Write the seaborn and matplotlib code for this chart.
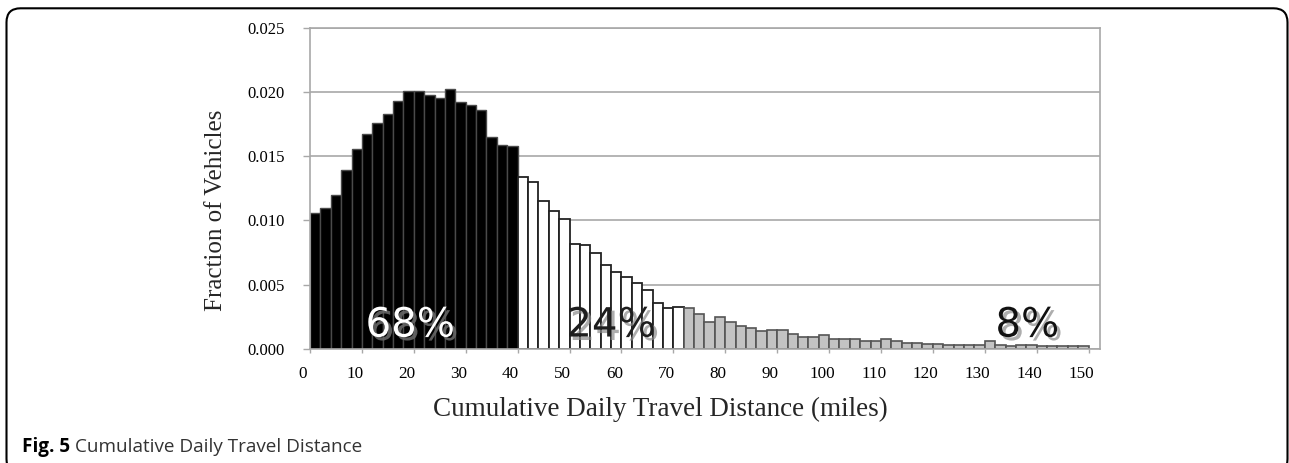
"""Daily travel distance histogram (Fig. 5) redrawn with seaborn."""

import matplotlib

matplotlib.use("Agg")
import matplotlib.patheffects as pe
import matplotlib.pyplot as plt
import numpy as np
import pandas as pd
import seaborn as sns
from matplotlib.patches import FancyBboxPatch
from matplotlib.transforms import IdentityTransform, ScaledTranslation

# Data: fraction of vehicles per 2-mile bin
BIN_WIDTH = 2
black_start = 0
black_frac = [
    0.0106, 0.0110, 0.0120, 0.0139, 0.0156, 0.0167, 0.0176, 0.0183, 0.0193, 0.0201,
    0.0201, 0.0198, 0.0195, 0.0202, 0.0192, 0.0190, 0.0186, 0.0165, 0.0159, 0.0158,
]
white_start = 40
white_frac = [
    0.0134, 0.0130, 0.0115, 0.0107, 0.0101, 0.0082, 0.0081, 0.0075, 0.0065, 0.0060,
    0.0056, 0.0051, 0.0046, 0.0036, 0.0032, 0.0033,
]
gray_start = 72
gray_frac = [
    0.0032, 0.0027, 0.0021, 0.0025, 0.0021, 0.0018, 0.0016, 0.0014, 0.0015, 0.0015,
    0.0012, 0.0009, 0.0009, 0.0011, 0.0008, 0.0008, 0.0008, 0.00065, 0.00065, 0.0008,
    0.0006, 0.0005, 0.0005, 0.0004, 0.0004, 0.0003, 0.0003, 0.0003, 0.0003, 0.0006,
    0.0003, 0.00025, 0.0003, 0.0003, 0.00025, 0.0002, 0.0002, 0.0002, 0.0002,
]
pct_labels = ["68%", "24%", "8%"]
pct_x = [19.3, 58.0, 138.2]
pct_y = 0.00097
x_ticks = list(range(0, 151, 10))
y_ticks = [0.000, 0.005, 0.010, 0.015, 0.020, 0.025]

GROUPS = [
    ("black", black_start, black_frac, "#000000", "#4a4a4a", 1.0),
    ("white", white_start, white_frac, "#ffffff", "#222222", 1.3),
    ("gray", gray_start, gray_frac, "#c3c3c3", "#555555", 1.2),
]

# Style
sns.set_style("white")
plt.rcParams["font.family"] = ["Liberation Serif", "DejaVu Serif"]
GRID = "#a8a8a8"

fig = plt.figure(figsize=(12.89, 4.63), dpi=100)
ax = fig.add_axes([310 / 1289, 1 - 349 / 463, 790 / 1289, 321.3 / 463])

for name, start, fracs, face, edge, lw in GROUPS:
    mids = start + BIN_WIDTH * np.arange(len(fracs)) + BIN_WIDTH / 2
    df = pd.DataFrame({"mile": mids, "frac": fracs})
    sns.histplot(
        data=df,
        x="mile",
        weights="frac",
        binwidth=BIN_WIDTH,
        binrange=(start, start + BIN_WIDTH * len(fracs)),
        color=face,
        edgecolor=edge,
        linewidth=lw,
        alpha=1,
        ax=ax,
    )

ax.set_xlim(0, 152.2)
ax.set_ylim(0, 0.025)
ax.set_xticks(x_ticks)
ax.set_xticklabels([str(t) for t in x_ticks])
ax.set_yticks(y_ticks)
ax.set_yticklabels([f"{t:.3f}" for t in y_ticks])

ax.set_axisbelow(True)
ax.yaxis.grid(True, color=GRID, linewidth=1.2)
ax.xaxis.grid(False)
for side in ["left", "right", "top", "bottom"]:
    ax.spines[side].set_visible(True)
    ax.spines[side].set_color(GRID)
    ax.spines[side].set_linewidth(1.2)

ax.tick_params(axis="y", direction="out", length=5, width=1, color=GRID,
               pad=13, labelsize=12, labelcolor="black", left=True)
ax.tick_params(axis="x", direction="out", length=3, width=1, color=GRID,
               pad=9, labelsize=12.3, labelcolor="black", bottom=True)

# labels in the original sit a little left of their ticks
shift = ScaledTranslation(-0.07, 0, fig.dpi_scale_trans)
for lbl in ax.get_xticklabels():
    lbl.set_transform(lbl.get_transform() + shift)

ax.set_xlabel("Cumulative Daily Travel Distance (miles)", fontsize=19.5)
ax.set_ylabel("Fraction of Vehicles", fontsize=18)
ax.xaxis.set_label_coords(0.444, -0.148)
ax.yaxis.set_label_coords(-0.105, 0.433)

# Share annotations
pct_styles = [
    ("white", "#666666", 0.9),
    ("#1e1e1e", "#8a8a8a", 0.7),
    ("#111111", "#8a8a8a", 0.7),
]
for label, x, (fc, sc, a) in zip(pct_labels, pct_x, pct_styles):
    ax.text(
        x, pct_y, label,
        family="DejaVu Sans", fontsize=29, color=fc,
        ha="center", va="baseline",
        path_effects=[
            pe.withSimplePatchShadow(offset=(2.5, -2.5), shadow_rgbFace=sc, alpha=a),
        ],
    )

# Caption and frame
fig.canvas.draw()
cap_bold = fig.text(22 / 1289, 1 - 451.7 / 463, "Fig. 5", family="Open Sans",
                    fontweight="bold", fontsize=13.6, color="black", va="baseline")
fig.canvas.draw()
bb = cap_bold.get_window_extent()
fig.text((bb.x1 + 5) / 1289, 1 - 451.7 / 463, "Cumulative Daily Travel Distance",
         family="Open Sans", fontsize=13.6, color="#333333", va="baseline")

frame = FancyBboxPatch(
    (6.5, -10), 1281, 464.7,
    boxstyle="round,pad=0,rounding_size=14",
    transform=IdentityTransform(),
    fill=False, edgecolor="black", linewidth=1.5,
)
fig.add_artist(frame)

fig.savefig("out.png", dpi=100)
